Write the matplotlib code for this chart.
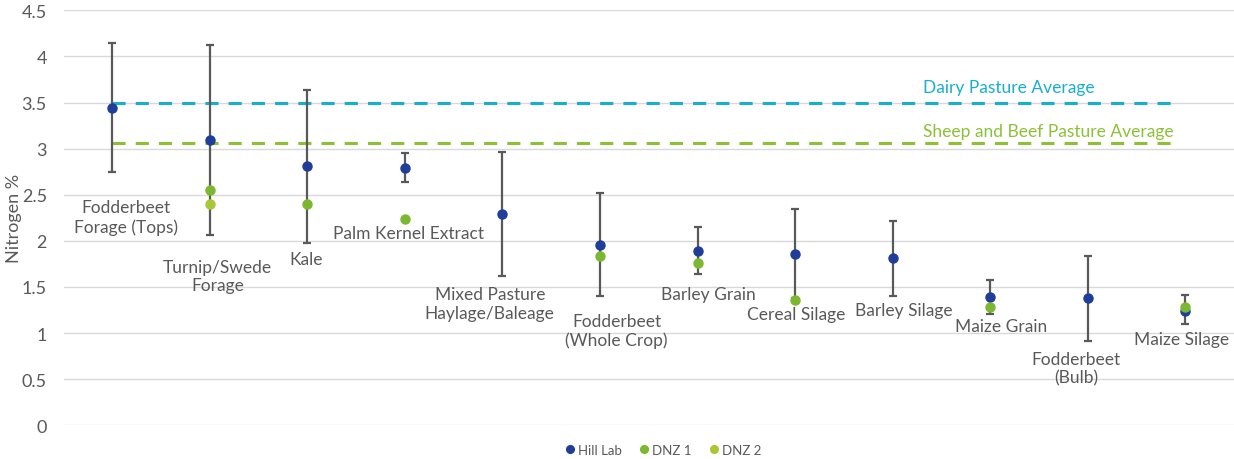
import matplotlib.pyplot as plt
import numpy as np

# ---------------- data ----------------
categories = ["Fodderbeet\nForage (Tops)", "Turnip/Swede\nForage", "Kale", "Palm Kernel Extract",
              "Mixed Pasture\nHaylage/Baleage", "Fodderbeet\n(Whole Crop)", "Barley Grain",
              "Cereal Silage", "Barley Silage", "Maize Grain", "Fodderbeet\n(Bulb)", "Maize Silage"]
hill_lab = [3.44, 3.09, 2.81, 2.79, 2.29, 1.96, 1.89, 1.86, 1.81, 1.39, 1.38, 1.24]
err_high = [4.15, 4.12, 3.64, 2.95, 2.96, 2.52, 2.15, 2.34, 2.22, 1.58, 1.84, 1.41]
err_low = [2.75, 2.06, 1.98, 2.64, 1.62, 1.40, 1.64, 1.38, 1.40, 1.21, 0.91, 1.10]
dnz1 = [np.nan, 2.55, 2.40, 2.24, np.nan, 1.84, 1.76, 1.36, np.nan, 1.28, np.nan, 1.28]
dnz2 = [np.nan, 2.40, np.nan, np.nan, np.nan, np.nan, np.nan, np.nan, np.nan, np.nan, np.nan, np.nan]
dairy_avg = 3.5
sheep_beef_avg = 3.06

# label positions (category offset, y centre)
label_dx = [0.14, 0.08, -0.01, 0.04, -0.13, 0.17, 0.11, 0.01, 0.11, 0.11, -0.12, -0.04]
label_y = [2.26, 1.62, 1.80, 2.09, 1.32, 1.03, 1.42, 1.21, 1.25, 1.08, 0.62, 0.94]

c_hill = "#1f3d99"
c_dnz1 = "#7cb82f"
c_dnz2 = "#a8c734"
c_dairy = "#17afcf"
c_sheep = "#8cc136"
c_text = "#595959"

plt.rcParams['font.family'] = ['Lato', 'DejaVu Sans']

fig = plt.figure(figsize=(12.34, 4.6), dpi=100)
ax = fig.add_axes([0.0515, 0.0733, 0.9485, 0.9021])

x = np.arange(len(categories))
hill = np.array(hill_lab)
yerr = [hill - np.array(err_low), np.array(err_high) - hill]

ax.errorbar(x, hill, yerr=yerr, fmt='none', ecolor="#595959", elinewidth=1.6,
            capsize=2.8, capthick=1.6, zorder=3)

# reference lines
ax.plot([0, 10.89], [dairy_avg, dairy_avg], color=c_dairy, lw=2.2, dashes=(4.3, 3.3), zorder=2)
ax.plot([0, 10.89], [sheep_beef_avg, sheep_beef_avg], color=c_sheep, lw=2.2, dashes=(4.3, 3.3), zorder=2)
ax.text(8.31, 3.67, "Dairy Pasture Average", color=c_dairy, fontsize=12.5, va='center', ha='left')
ax.text(8.31, 3.19, "Sheep and Beef Pasture Average", color=c_sheep, fontsize=12.5, va='center', ha='left')

ax.plot(x, hill, 'o', color=c_hill, ms=6.5, label="Hill Lab", zorder=4)
ax.plot(x, dnz1, 'o', color=c_dnz1, ms=6.5, label="DNZ 1", zorder=5)
ax.plot(x, dnz2, 'o', color=c_dnz2, ms=6.5, label="DNZ 2", zorder=5)

for i, name in enumerate(categories):
    ax.text(i + label_dx[i], label_y[i], name, color=c_text, fontsize=12.5,
            ha='center', va='center', linespacing=1.2, zorder=6)

ax.set_xlim(-0.5, len(categories) - 0.5)
ax.set_ylim(0, 4.5)
ax.set_yticks(np.arange(0, 4.51, 0.5))
ax.set_yticklabels([f"{v:g}" for v in np.arange(0, 4.51, 0.5)])
ax.set_xticks([])
ax.tick_params(axis='y', length=0, labelsize=13, labelcolor=c_text, pad=12)
ax.grid(axis='y', color="#d9d9d9", lw=1)
ax.set_axisbelow(True)
for s in ax.spines.values():
    s.set_visible(False)
ax.set_ylabel("Nitrogen %", fontsize=13, color=c_text)
ax.yaxis.set_label_coords(-0.0355, 0.5)

fig.legend(loc='center', bbox_to_anchor=(0.537, 0.02), ncol=3, frameon=False,
           fontsize=9.5, labelcolor=c_text, handletextpad=0.1, columnspacing=1.2,
           markerscale=0.85, handlelength=1)

plt.savefig("out.png", dpi=100)
